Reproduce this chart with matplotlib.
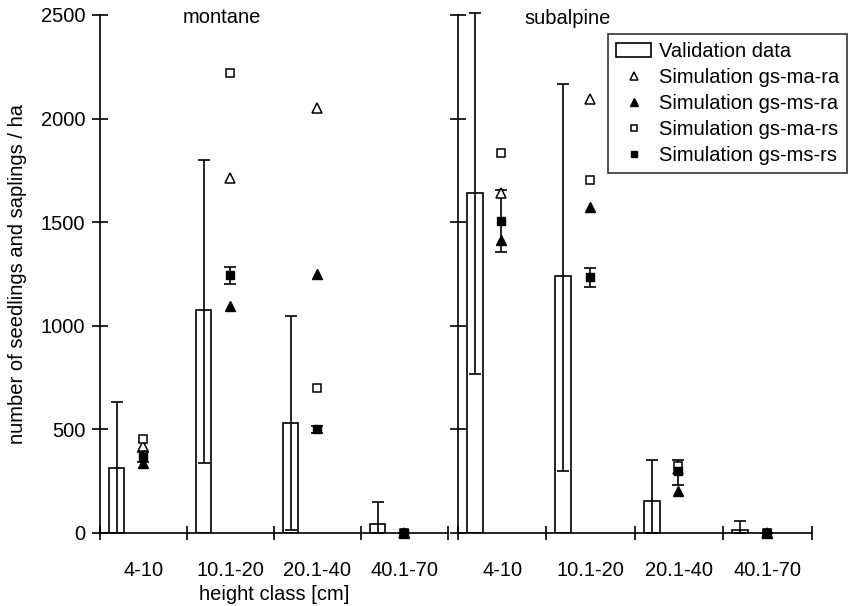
"""
Seedlings and saplings per height class, montane vs subalpine
"""

import numpy as np
import matplotlib.pyplot as plt
from matplotlib.patches import Patch
from matplotlib.lines import Line2D

plt.rcParams['font.family'] = ['Liberation Sans', 'DejaVu Sans']
plt.rcParams['font.size'] = 14.5

classes = ['4-10', '10.1-20', '20.1-40', '40.1-70']

# validation data: mean and the two ends of the error bar
mont_val = [314, 1075, 533, 45]
mont_lo = [0, 340, 15, 0]
mont_hi = [632, 1800, 1045, 150]
sub_val = [1640, 1238, 155, 15]
sub_lo = [767, 300, 0, 0]
sub_hi = [2510, 2167, 352, 58]

# simulations
mont_ma_ra = [418, 1715, 2052, 0]
mont_ms_ra = [340, 1095, 1250, 0]
mont_ma_rs = [452, 2222, 700, 0]
mont_ms_rs = [367, 1245, 500, 0]
mont_ms_rs_lo = [345, 1202, 485, 0]
mont_ms_rs_hi = [390, 1284, 515, 0]

sub_ma_ra = [1640, 2093, 310, 0]
sub_ms_ra = [1415, 1572, 205, 0]
sub_ma_rs = [1834, 1703, 323, 0]
sub_ms_rs = [1505, 1236, 300, 0]
sub_ms_rs_lo = [1356, 1187, 232, 0]
sub_ms_rs_hi = [1655, 1279, 352, 0]


def draw_panel(ax, val, lo, hi, ma_ra, ms_ra, ma_rs, ms_rs, ms_lo, ms_hi):
    """
    One panel: bars with error bars and four simulation series
    """
    idx = np.arange(len(classes))
    xbar = idx + 0.19
    xsim = idx + 0.49
    val = np.array(val)
    ms_rs = np.array(ms_rs)

    ax.bar(xbar, val, width=0.18, color='white', edgecolor='black', lw=1.2, zorder=2)
    ax.errorbar(xbar, val, yerr=[val - np.array(lo), np.array(hi) - val],
                fmt='none', ecolor='black', elinewidth=1.2, capsize=4, capthick=1.2,
                zorder=3, clip_on=False)

    ax.errorbar(xsim, ms_rs, yerr=[ms_rs - np.array(ms_lo), np.array(ms_hi) - ms_rs],
                fmt='none', ecolor='black', elinewidth=1.2, capsize=4, capthick=1.2,
                zorder=4, clip_on=False)
    ax.plot(xsim, ma_ra, ls='none', marker='^', ms=7, mfc='white', mec='black',
            mew=1.1, zorder=5, clip_on=False)
    ax.plot(xsim, ms_ra, ls='none', marker='^', ms=7, mfc='black', mec='black',
            zorder=5, clip_on=False)
    ax.plot(xsim, ma_rs, ls='none', marker='s', ms=6, mfc='white', mec='black',
            mew=1.1, zorder=5, clip_on=False)
    ax.plot(xsim, ms_rs, ls='none', marker='s', ms=6, mfc='black', mec='black',
            zorder=5, clip_on=False)

    ax.set_xlim(0, 4)
    ax.set_ylim(0, 2500)
    ax.set_xticks(np.arange(5))
    ax.set_xticklabels([])
    ax.set_xticks(idx + 0.5, minor=True)
    ax.set_xticklabels(classes, minor=True)
    ax.tick_params(axis='x', which='major', direction='inout', length=10, width=1.2)
    ax.tick_params(axis='x', which='minor', length=0, pad=20)
    ax.set_yticks(np.arange(0, 2501, 500))
    ax.tick_params(axis='y', direction='inout', length=11, width=1.2, pad=5)
    for side in ['top', 'right']:
        ax.spines[side].set_visible(False)
    for side in ['left', 'bottom']:
        ax.spines[side].set_linewidth(1.2)


def main():
    """
    Build both panels
    """
    fig = plt.figure(figsize=(8.53, 6.06), dpi=100)
    ax01 = fig.add_axes([100 / 853, 73 / 606, 348 / 853, 518 / 606])
    ax02 = fig.add_axes([458 / 853, 73 / 606, 354 / 853, 518 / 606])

    draw_panel(ax01, mont_val, mont_lo, mont_hi, mont_ma_ra, mont_ms_ra,
               mont_ma_rs, mont_ms_rs, mont_ms_rs_lo, mont_ms_rs_hi)
    draw_panel(ax02, sub_val, sub_lo, sub_hi, sub_ma_ra, sub_ms_ra,
               sub_ma_rs, sub_ms_rs, sub_ms_rs_lo, sub_ms_rs_hi)
    ax02.set_yticklabels([])

    ax01.text(1.4, 2490, 'montane', ha='center', va='center')
    ax02.text(0.75, 2485, 'subalpine', ha='left', va='center')

    ax01.set_ylabel('number of seedlings and saplings / ha', labelpad=10)
    ax01.set_xlabel('height class [cm]', labelpad=4)

    handles = [
        Patch(facecolor='white', edgecolor='black', lw=1.2),
        Line2D([], [], ls='none', marker='^', ms=6, mfc='white', mec='black', mew=1.1),
        Line2D([], [], ls='none', marker='^', ms=6, mfc='black', mec='black'),
        Line2D([], [], ls='none', marker='s', ms=5, mfc='white', mec='black', mew=1.1),
        Line2D([], [], ls='none', marker='s', ms=5, mfc='black', mec='black'),
    ]
    labels = ['Validation data', 'Simulation gs-ma-ra', 'Simulation gs-ms-ra',
              'Simulation gs-ma-rs', 'Simulation gs-ms-rs']
    leg = fig.legend(handles, labels, loc='upper right',
                     bbox_to_anchor=(847 / 853, 1 - 34 / 606),
                     frameon=True, fancybox=False, edgecolor='black',
                     borderpad=0.4, labelspacing=0.35, handlelength=1.7,
                     handletextpad=0.4, borderaxespad=0)
    leg.get_frame().set_linewidth(1.2)

    fig.savefig('out.png', dpi=100)


if __name__ == "__main__":
    main()
